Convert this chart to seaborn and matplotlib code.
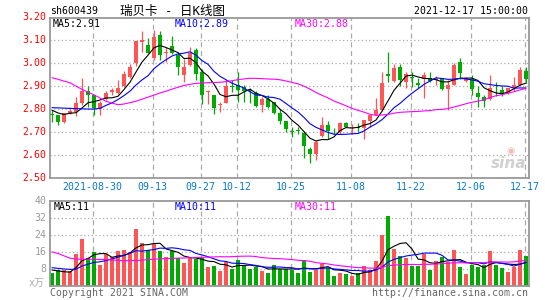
import numpy as np
import pandas as pd
import matplotlib
matplotlib.use("Agg")
import matplotlib.pyplot as plt
import matplotlib.transforms as mtrans
import seaborn as sns

sns.set_style("white")
plt.rcParams['font.family'] = ['DejaVu Sans Mono', 'Noto Sans CJK SC']

# ---------------- data ----------------
opens = [2.779, 2.772, 2.743, 2.780, 2.787, 2.828, 2.880, 2.860, 2.800, 2.845,
         2.875, 2.872, 2.900, 2.941, 3.000, 3.095, 3.080, 3.022, 3.122, 3.045,
         3.074, 3.037, 2.949, 2.993, 3.059, 2.963, 2.875, 2.863, 2.817, 2.828,
         2.900, 2.904, 2.895, 2.882, 2.872, 2.819, 2.846, 2.830, 2.782, 2.749,
         2.701, 2.708, 2.697, 2.625, 2.603, 2.681, 2.731, 2.705, 2.699, 2.740,
         2.715, 2.722, 2.715, 2.749, 2.774, 2.794, 2.955, 2.924, 2.985, 2.919,
         2.942, 2.912, 2.931, 2.937, 2.925, 2.935, 2.887, 2.906, 3.005, 2.924,
         2.931, 2.872, 2.853, 2.844, 2.888, 2.884, 2.871, 2.894, 2.907, 2.966]
highs = [2.794, 2.775, 2.782, 2.800, 2.853, 2.934, 2.900, 2.860, 2.834, 2.880,
         2.893, 2.928, 2.965, 2.995, 3.096, 3.143, 3.110, 3.147, 3.143, 3.070,
         3.118, 3.050, 3.020, 3.070, 3.066, 2.975, 2.882, 2.863, 2.830, 2.926,
         2.929, 2.963, 2.905, 2.890, 2.878, 2.852, 2.860, 2.830, 2.800, 2.749,
         2.722, 2.722, 2.703, 2.632, 2.665, 2.765, 2.746, 2.716, 2.743, 2.743,
         2.735, 2.740, 2.750, 2.777, 2.850, 2.960, 3.050, 2.995, 2.995, 2.963,
         2.963, 2.937, 2.963, 2.963, 2.945, 2.928, 2.926, 3.000, 3.025, 2.941,
         2.949, 2.900, 2.860, 2.950, 2.920, 2.900, 2.890, 2.940, 2.985, 2.985]
lows = [2.745, 2.730, 2.740, 2.778, 2.770, 2.816, 2.810, 2.776, 2.776, 2.840,
        2.860, 2.865, 2.897, 2.936, 2.990, 3.050, 3.044, 3.015, 3.015, 3.007,
        3.040, 2.949, 2.919, 2.990, 2.926, 2.824, 2.824, 2.780, 2.787, 2.825,
        2.875, 2.830, 2.830, 2.826, 2.808, 2.787, 2.806, 2.779, 2.735, 2.700,
        2.676, 2.690, 2.588, 2.566, 2.578, 2.676, 2.670, 2.690, 2.691, 2.720,
        2.691, 2.700, 2.671, 2.720, 2.772, 2.790, 2.918, 2.920, 2.900, 2.890,
        2.895, 2.893, 2.850, 2.920, 2.905, 2.883, 2.797, 2.906, 2.930, 2.919,
        2.860, 2.809, 2.810, 2.840, 2.855, 2.855, 2.865, 2.880, 2.900, 2.915]
closes = [2.776, 2.745, 2.781, 2.790, 2.827, 2.880, 2.860, 2.804, 2.826, 2.872,
          2.884, 2.893, 2.952, 2.985, 3.096, 3.100, 3.044, 3.113, 3.037, 3.050,
          3.047, 2.985, 2.985, 3.044, 2.951, 2.863, 2.881, 2.804, 2.820, 2.900,
          2.895, 2.882, 2.878, 2.878, 2.813, 2.843, 2.810, 2.784, 2.747, 2.713,
          2.700, 2.706, 2.640, 2.603, 2.654, 2.731, 2.702, 2.702, 2.740, 2.720,
          2.720, 2.719, 2.750, 2.774, 2.797, 2.912, 2.946, 2.980, 2.929, 2.952,
          2.935, 2.906, 2.948, 2.922, 2.931, 2.887, 2.906, 2.992, 2.957, 2.934,
          2.887, 2.853, 2.835, 2.891, 2.886, 2.870, 2.890, 2.906, 2.970, 2.930]
volumes = [6.0, 7.5, 7.2, 7.0, 15.0, 22.2, 13.0, 15.9, 9.6, 15.1,
           13.4, 16.2, 16.8, 15.9, 27.0, 20.2, 17.0, 19.5, 16.5, 13.7,
           16.2, 13.0, 10.5, 13.2, 12.4, 13.3, 8.6, 9.4, 7.0, 11.0,
           8.0, 12.2, 9.6, 8.0, 8.6, 7.0, 6.2, 9.9, 8.0, 8.0,
           7.5, 5.9, 12.3, 6.7, 7.5, 10.2, 8.3, 4.8, 5.9, 5.4,
           4.8, 5.9, 9.1, 7.5, 11.5, 24.0, 33.0, 17.2, 14.0, 13.2,
           9.3, 9.3, 15.0, 7.4, 11.8, 13.4, 11.0, 17.0, 8.6, 5.6,
           10.0, 8.6, 9.8, 16.5, 9.6, 8.5, 6.6, 9.0, 17.0, 14.1]

# moving averages before enough days are on the chart
price_ma5_head = [2.795, 2.783, 2.776, 2.782]
price_ma10_head = [2.806, 2.805, 2.804, 2.803, 2.802, 2.801, 2.800, 2.800, 2.803]
price_ma30_head = [2.937, 2.930, 2.922, 2.915, 2.900, 2.886, 2.874, 2.862, 2.848, 2.834,
                   2.826, 2.819, 2.822, 2.828, 2.834, 2.843, 2.852, 2.861, 2.870, 2.878,
                   2.887, 2.895, 2.903, 2.908, 2.912, 2.914, 2.915, 2.916, 2.917]
vol_ma5_head = [7.4, 7.0, 6.6, 6.4]
vol_ma10_head = [8.5, 8.2, 7.9, 7.7, 7.8, 9.3, 10.2, 11.0, 11.3]
vol_ma30_head = [16.0, 15.2, 14.1, 13.0, 12.6, 12.5, 12.5, 12.5, 12.4, 12.3,
                 12.2, 11.9, 11.8, 11.8, 11.9, 12.1, 12.3, 12.5, 12.7, 12.8,
                 12.9, 13.0, 13.1, 13.2, 13.3, 13.4, 13.5, 13.6, 13.7]

tick_idx = [7, 17, 25, 31, 40, 50, 60, 70, 79]
tick_labels = ['2021-08-30', '09-13', '09-27', '10-12', '10-25',
               '11-08', '11-22', '12-06', '12-17']
price_ticks = [3.20, 3.10, 3.00, 2.90, 2.80, 2.70, 2.60, 2.50]
vol_ticks = [40, 32, 24, 16, 8]
price_ma_labels = ['MA5:2.91', 'MA10:2.89', 'MA30:2.88']
vol_ma_labels = ['MA5:11', 'MA10:11', 'MA30:11']
code_label = 'sh600439'
title_label = '瑞贝卡 - 日K线图'
time_label = '2021-12-17 15:00:00'
unit_label = 'x万'
copyright_label = 'Copyright 2021 SINA.COM'
url_label = 'http://finance.sina.com.cn'

# ---------------- derived ----------------
o = np.array(opens); h = np.array(highs); l = np.array(lows); c = np.array(closes)
v = np.array(volumes)
idx = np.arange(len(c))


def ma(series, n, head):
    s = pd.Series(series).rolling(n).mean().to_numpy()
    s[:len(head)] = head
    return s


pma5 = ma(c, 5, price_ma5_head)
pma10 = ma(c, 10, price_ma10_head)
pma30 = ma(c, 30, price_ma30_head)
vma5 = ma(v, 5, vol_ma5_head)
vma10 = ma(v, 10, vol_ma10_head)
vma30 = ma(v, 30, vol_ma30_head)

RED = '#ff5555'
GREEN = '#00aa00'
up = c >= o
colors = np.where(up, RED, GREEN)

W, H = 545, 300
fig = plt.figure(figsize=(W / 100, H / 100), dpi=100)
fig.patch.set_facecolor('white')


def fx(px):
    return px / W


def fy(py):
    return 1 - py / H


ax1 = fig.add_axes([fx(50), fy(177.7), 479 / W, (177.7 - 17.5) / H])
ax2 = fig.add_axes([fx(50), fy(285.7), 479 / W, (285.7 - 201) / H])

XMIN, XMAX = -1 / 3, 79.5
GRID = '#aaaaaa'
for ax in (ax1, ax2):
    ax.set_xlim(XMIN, XMAX)
    ax.set_xticks([])
    ax.set_yticks([])
    for sp in ax.spines.values():
        sp.set_color('#999999')
        sp.set_linewidth(1.3)
    ax.vlines(np.array(tick_idx) - 0.25, 0, 1, transform=ax.get_xaxis_transform(),
              colors=GRID, linestyles=(0, (4, 3)), linewidth=0.9, zorder=0)

ax1.set_ylim(2.50, 3.20)
ax2.set_ylim(0, 40)
ax1.hlines(price_ticks[1:-1], XMIN, XMAX, colors=GRID, linestyles=(0, (1, 2)),
           linewidth=0.9, zorder=0)
ax2.hlines(vol_ticks[1:], XMIN, XMAX, colors=GRID, linestyles=(0, (1, 2)),
           linewidth=0.9, zorder=0)

# candles
ax1.vlines(idx, l, h, colors=colors, linewidth=0.9, zorder=2)
body_h = np.maximum(np.abs(c - o), 0.003)
ax1.bar(idx, body_h, bottom=np.minimum(o, c), width=0.75, color=colors,
        linewidth=0, zorder=3)

# volume bars
ax2.bar(idx, v, width=0.83, color=colors, linewidth=0, zorder=2)

# moving average lines via seaborn
for ax, series in ((ax1, (pma5, pma10, pma30)), (ax2, (vma5, vma10, vma30))):
    for s, col in zip(series, ('black', '#0000ff', '#ff00ff')):
        sns.lineplot(x=idx, y=s, ax=ax, color=col, linewidth=0.8, zorder=4)
    ax.set_xlabel('')
    ax.set_ylabel('')
    ax.set_xlim(XMIN, XMAX)
    ax.set_xticks([])
    ax.set_yticks([])
ax1.set_ylim(2.50, 3.20)
ax2.set_ylim(0, 40)

FS = 7.15
# y tick labels
t1 = mtrans.blended_transform_factory(fig.transFigure, ax1.transData)
for p in price_ticks:
    fig.text(fx(46.5), p, f'{p:.2f}', transform=t1, ha='right', va='center',
             color='#ff0000', fontsize=FS)
t2 = mtrans.blended_transform_factory(fig.transFigure, ax2.transData)
for q in vol_ticks:
    fig.text(fx(46.5), q, f'{q}', transform=t2, ha='right', va='center',
             color='#999999', fontsize=FS)
fig.text(fx(29), fy(283), unit_label, ha='left', va='center', color='#aaaaaa',
         fontsize=FS)

# x tick labels
tx = mtrans.blended_transform_factory(ax1.transData, fig.transFigure)
for i, lab in zip(tick_idx, tick_labels):
    fig.text(i - 0.25, fy(186.5), lab, transform=tx, ha='center', va='center',
             color='#0a78c8', fontsize=FS)

# header
fig.text(fx(50), fy(11.5), code_label, ha='left', va='center', color='black', fontsize=FS)
fig.text(fx(120), fy(11.5), title_label, ha='left', va='center', color='black', fontsize=9)
fig.text(fx(528), fy(11.5), time_label, ha='right', va='center', color='black', fontsize=FS)

# MA legends
for lab, x0, col in zip(price_ma_labels, (53, 175, 295), ('black', '#0000ff', '#ff00ff')):
    fig.text(fx(x0), fy(24), lab, ha='left', va='center', color=col, fontsize=FS)
for lab, x0, col in zip(vol_ma_labels, (54, 175, 295), ('black', '#0000ff', '#ff00ff')):
    fig.text(fx(x0), fy(206.5), lab, ha='left', va='center', color=col, fontsize=FS)

# footer
fig.text(fx(50), fy(292.5), copyright_label, ha='left', va='center', color='#666666', fontsize=FS)
fig.text(fx(528), fy(292.5), url_label, ha='right', va='center', color='#666666', fontsize=FS)

# watermark
fig.text(fx(526), fy(163), 'sina', ha='right', va='center', color='#d0d0d0',
         fontsize=11, style='italic', fontweight='bold', family='DejaVu Sans')
fig.text(fx(511), fy(151), '\u25C9', ha='center', va='center', color='#f2b8b8',
         fontsize=7, family='DejaVu Sans')

fig.savefig('out.png', dpi=100, facecolor='white')
